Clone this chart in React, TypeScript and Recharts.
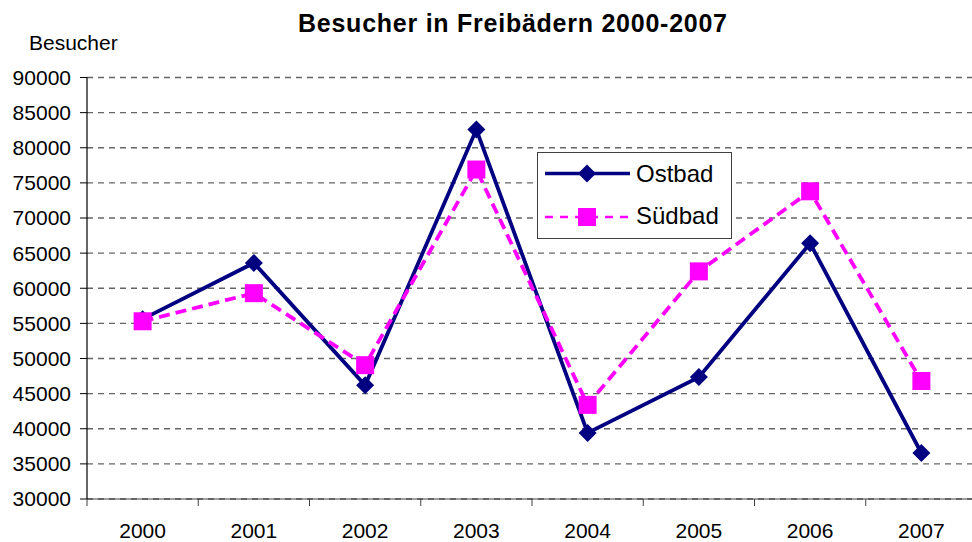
import React from "react";
import { LineChart, Line, XAxis, YAxis, CartesianGrid, Legend } from "recharts";

const categories = ["2000", "2001", "2002", "2003", "2004", "2005", "2006", "2007"];
const ostbad = [55600, 63600, 46200, 82600, 39400, 47350, 66400, 36550];
const suedbad = [55300, 59300, 49050, 76900, 43400, 62400, 73800, 46800];
const seriesNames = ["Ostbad", "Südbad"];
const yTicks = [30000, 35000, 40000, 45000, 50000, 55000, 60000, 65000, 70000, 75000, 80000, 85000, 90000];
const xTicks = [0, 0.5, 1, 1.5, 2, 2.5, 3, 3.5, 4, 4.5, 5, 5.5, 6, 6.5, 7, 7.5, 8];

const data = categories.map((c, i) => ({
  year: c,
  pos: i + 0.5,
  ostbad: ostbad[i],
  suedbad: suedbad[i],
}));

const NAVY = "#000080";
const MAGENTA = "#FF00FF";
const FONT = "'Liberation Sans', Arial, sans-serif";

const Diamond = (props: any) => {
  const { cx, cy } = props;
  if (cx == null || cy == null) return null;
  const r = 9;
  return <path d={`M${cx},${cy - r}L${cx + r},${cy}L${cx},${cy + r}L${cx - r},${cy}Z`} fill={NAVY} stroke="none" />;
};

const Square = (props: any) => {
  const { cx, cy } = props;
  if (cx == null || cy == null) return null;
  const h = 9;
  return <rect x={cx - h} y={cy - h} width={2 * h} height={2 * h} fill={MAGENTA} stroke="none" />;
};

const XTick = (props: any) => {
  const { x, y, payload } = props;
  const v = payload.value;
  if (Number.isInteger(v)) {
    return <line x1={x} x2={x} y1={y} y2={y + 7} stroke="#404040" strokeWidth={1} />;
  }
  const label = categories[Math.round(v - 0.5)];
  return (
    <text x={x} y={y + 39} textAnchor="middle" fontSize={21} fontFamily={FONT} fill="#000">
      {label}
    </text>
  );
};

const LegendBox = () => (
  <svg width={196} height={88} style={{ display: "block" }}>
    <rect x={0.5} y={0.5} width={194} height={86} fill="#fff" stroke="#404040" strokeWidth={1} />
    <line x1={8} x2={93} y1={21.5} y2={21.5} stroke={NAVY} strokeWidth={3.5} />
    <path d="M50,12.5L59,21.5L50,30.5L41,21.5Z" fill={NAVY} />
    <text x={99} y={30} fontSize={24} fontFamily={FONT} fill="#000">{seriesNames[0]}</text>
    <line x1={8} x2={93} y1={65} y2={65} stroke={MAGENTA} strokeWidth={2.5} strokeDasharray="8 7" />
    <rect x={41} y={56} width={18} height={18} fill={MAGENTA} />
    <text x={99} y={72} fontSize={24} fontFamily={FONT} fill="#000">{seriesNames[1]}</text>
  </svg>
);

export default function App() {
  return (
    <div style={{ position: "fixed", left: 0, top: 0, width: 972, height: 542, overflow: "hidden", background: "#fff" }}>
      <LineChart width={980} height={542} data={data} margin={{ top: 77.5, right: 3, bottom: 0, left: 0 }}>
        <CartesianGrid vertical={false} stroke="#666" strokeWidth={1.4} strokeDasharray="6 5" />
        <XAxis
          dataKey="pos"
          type="number"
          domain={[0, 8]}
          ticks={xTicks}
          interval={0}
          height={43}
          tickLine={false}
          tickSize={0}
          tickMargin={0}
          axisLine={{ stroke: "#404040", strokeWidth: 1.2 }}
          tick={<XTick />}
        />
        <YAxis
          type="number"
          domain={[30000, 90000]}
          ticks={yTicks}
          interval={0}
          width={87}
          tickSize={7}
          tickMargin={9}
          tickLine={{ stroke: "#000" }}
          axisLine={{ stroke: "#000", strokeWidth: 1.2 }}
          tick={{ fontSize: 21, fontFamily: FONT, fill: "#000" }}
        />
        <Legend
          layout="vertical"
          align="center"
          verticalAlign="middle"
          content={<LegendBox />}
          wrapperStyle={{ left: 537, top: 152, width: 196, height: 88 }}
        />
        <Line
          dataKey="ostbad"
          name={seriesNames[0]}
          stroke={NAVY}
          strokeWidth={3.8}
          dot={<Diamond />}
          activeDot={false}
          isAnimationActive={false}
        />
        <Line
          dataKey="suedbad"
          name={seriesNames[1]}
          stroke={MAGENTA}
          strokeWidth={3.8}
          strokeDasharray="11 6"
          dot={<Square />}
          activeDot={false}
          isAnimationActive={false}
        />
      </LineChart>
      <svg width={972} height={70} style={{ position: "absolute", left: 0, top: 0, pointerEvents: "none" }}>
        <text x={512.5} y={31.5} textAnchor="middle" fontSize={25} fontWeight="bold" fontFamily={FONT} fill="#000" textLength={429} lengthAdjust="spacing">
          Besucher in Freibädern 2000-2007
        </text>
        <text x={29} y={50} fontSize={21} fontFamily={FONT} fill="#000">Besucher</text>
      </svg>
    </div>
  );
}
